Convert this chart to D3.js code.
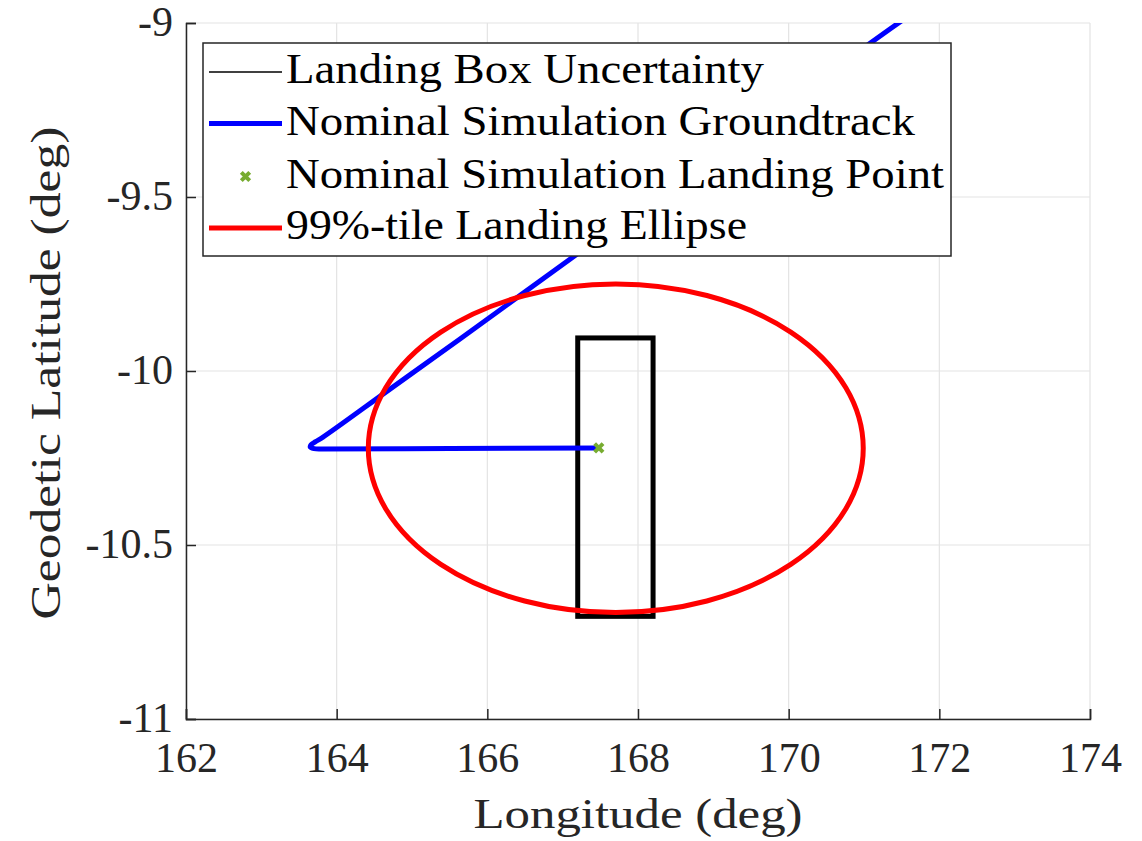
<!DOCTYPE html>
<html>
<head>
<meta charset="utf-8">
<script src="https://cdn.jsdelivr.net/npm/d3@7"></script>
<style>
  html, body { margin: 0; padding: 0; background: #fff; }
  svg { display: block; }
  text { font-family: "Liberation Serif", "Tinos", "DejaVu Serif", "Noto Serif", "Times New Roman", Times, serif; }
</style>
</head>
<body>
<svg id="chart" width="1142" height="841"></svg>
<script>
// Axis ticks
const lonTicks = [162, 164, 166, 168, 170, 172, 174];
const latTicks = [-9, -9.5, -10, -10.5, -11];
const latTickLabels = ["-9", "-9.5", "-10", "-10.5", "-11"];

// Nominal groundtrack (longitude, latitude in deg)
const trackLon = [171.88, 171.478, 169.354, 167.23, 165.637, 164.708, 163.819, 163.72, 163.66, 163.65, 163.70, 163.805, 165.505, 167.47];
const trackLat = [-8.938, -8.997, -9.328, -9.658, -9.908, -10.052, -10.19, -10.203, -10.212, -10.219, -10.223, -10.224, -10.223, -10.221];

// Nominal landing point
const landingLon = [167.48];
const landingLat = [-10.221];

// Landing box uncertainty: [lonMin, lonMax], [latMax, latMin]
const boxLon = [167.2, 168.2];
const boxLat = [-9.905, -10.705];

// 99%-tile landing ellipse: centre and semi-axes (deg)
const ellipseCenter = [167.705, -10.222];
const ellipseSemiAxes = [3.285, 0.472];

// Legend entries
const legendLabels = [
  "Landing Box Uncertainty",
  "Nominal Simulation Groundtrack",
  "Nominal Simulation Landing Point",
  "99%-tile Landing Ellipse"
];
const legendWidths = [478, 629, 658, 461];

const svg = d3.select("#chart");
const pL = 186, pR = 1090, pT = 23, pB = 719;
const axisColor = "#262626";
const fontStack = '"Liberation Serif", "Tinos", "DejaVu Serif", "Noto Serif", "Times New Roman", Times, serif';

const x = d3.scaleLinear().domain([162, 174]).range([pL, pR]);
const y = d3.scaleLinear().domain([-9, -11]).range([pT, pB]);

// Grid
const grid = svg.append("g");
grid.selectAll(".gx").data(lonTicks).join("line")
  .attr("x1", d => x(d)).attr("x2", d => x(d))
  .attr("y1", pT).attr("y2", pB)
  .attr("stroke", "#e3e3e3").attr("stroke-width", 1.2);
grid.selectAll(".gy").data(latTicks).join("line")
  .attr("x1", pL).attr("x2", pR)
  .attr("y1", d => y(d)).attr("y2", d => y(d))
  .attr("stroke", "#e3e3e3").attr("stroke-width", 1.2);

// Clip to plot area
svg.append("defs").append("clipPath").attr("id", "plotClip")
  .append("rect").attr("x", pL).attr("y", pT)
  .attr("width", pR - pL).attr("height", pB - pT);

const plot = svg.append("g").attr("clip-path", "url(#plotClip)");

// Landing box
plot.append("rect")
  .attr("x", x(boxLon[0])).attr("y", y(boxLat[0]))
  .attr("width", x(boxLon[1]) - x(boxLon[0]))
  .attr("height", y(boxLat[1]) - y(boxLat[0]))
  .attr("fill", "none").attr("stroke", "#000").attr("stroke-width", 5);

// Groundtrack
const track = trackLon.map((d, i) => [d, trackLat[i]]);
plot.append("path")
  .datum(track)
  .attr("d", d3.line().x(d => x(d[0])).y(d => y(d[1])).curve(d3.curveCatmullRom.alpha(0.5)))
  .attr("fill", "none").attr("stroke", "#0000ff").attr("stroke-width", 5)
  .attr("stroke-linejoin", "round").attr("stroke-linecap", "round");

// Ellipse
plot.append("ellipse")
  .attr("cx", x(ellipseCenter[0])).attr("cy", y(ellipseCenter[1]))
  .attr("rx", x(ellipseCenter[0] + ellipseSemiAxes[0]) - x(ellipseCenter[0]))
  .attr("ry", y(ellipseCenter[1] - ellipseSemiAxes[1]) - y(ellipseCenter[1]))
  .attr("fill", "none").attr("stroke", "#ff0000").attr("stroke-width", 5);

// Landing point marker
function cross(g, cx, cy) {
  const s = 4.2;
  g.append("path")
    .attr("d", `M${cx - s},${cy - s}L${cx + s},${cy + s}M${cx - s},${cy + s}L${cx + s},${cy - s}`)
    .attr("stroke", "#77ac30").attr("stroke-width", 4).attr("fill", "none");
}
landingLon.forEach((d, i) => cross(plot, x(d), y(landingLat[i])));

// Axes
const xAxis = svg.append("g").attr("transform", `translate(0,${pB})`)
  .call(d3.axisBottom(x).tickValues(lonTicks).tickSize(-10).tickPadding(0).tickFormat(d3.format("d")));
const yAxis = svg.append("g").attr("transform", `translate(${pL},0)`)
  .call(d3.axisLeft(y).tickValues(latTicks).tickSize(-10).tickPadding(0)
    .tickFormat((d, i) => latTickLabels[i]));

[xAxis, yAxis].forEach(a => {
  a.attr("font-family", null).attr("font-size", null);
  a.select(".domain").attr("stroke", axisColor).attr("stroke-width", 1.5);
  a.selectAll(".tick line").attr("stroke", axisColor).attr("stroke-width", 1.5);
  a.selectAll("text").attr("fill", axisColor)
    .style("font-family", fontStack).style("font-size", "42px");
});
xAxis.selectAll("text").attr("dy", null).attr("y", 53);
yAxis.selectAll("text").attr("dy", null).attr("x", -13).attr("y", 12);

// Axis titles
svg.append("text")
  .attr("x", (pL + pR) / 2).attr("y", 828)
  .attr("text-anchor", "middle").attr("fill", axisColor)
  .attr("font-size", 42).attr("textLength", 329).attr("lengthAdjust", "spacingAndGlyphs")
  .text("Longitude (deg)");
svg.append("text")
  .attr("transform", `translate(60,${(pT + pB) / 2 + 2}) rotate(-90)`)
  .attr("text-anchor", "middle").attr("fill", axisColor)
  .attr("font-size", 42).attr("textLength", 493).attr("lengthAdjust", "spacingAndGlyphs")
  .text("Geodetic Latitude (deg)");

// Legend
const legend = svg.append("g");
legend.append("rect")
  .attr("x", 203).attr("y", 43).attr("width", 748).attr("height", 213)
  .attr("fill", "#fff").attr("stroke", axisColor).attr("stroke-width", 1.5);
const rowY = [72, 123.5, 176.5, 228];
const sample = legend.append("g");
sample.append("line").attr("x1", 209).attr("x2", 282).attr("y1", rowY[0]).attr("y2", rowY[0])
  .attr("stroke", "#000").attr("stroke-width", 1.5);
sample.append("line").attr("x1", 209).attr("x2", 282).attr("y1", rowY[1]).attr("y2", rowY[1])
  .attr("stroke", "#0000ff").attr("stroke-width", 5);
cross(sample, 245.5, rowY[2]);
sample.append("line").attr("x1", 209).attr("x2", 282).attr("y1", rowY[3]).attr("y2", rowY[3])
  .attr("stroke", "#ff0000").attr("stroke-width", 5);
legend.selectAll(".lt").data(legendLabels).join("text")
  .attr("x", 286).attr("y", (d, i) => rowY[i] + 11)
  .attr("font-size", 42).attr("fill", "#000")
  .attr("textLength", (d, i) => legendWidths[i]).attr("lengthAdjust", "spacingAndGlyphs")
  .text(d => d);
</script>
</body>
</html>
